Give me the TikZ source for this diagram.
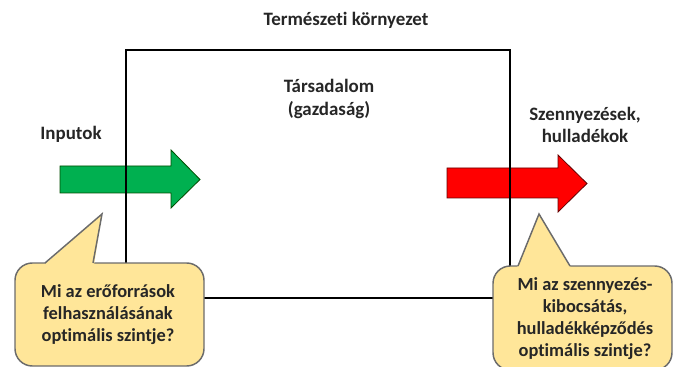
\documentclass[tikz,border=0pt]{standalone}
\usepackage{fontspec}
\setmainfont{Carlito}[Ligatures=NoCommon]
\begin{document}
\begin{tikzpicture}[x=0.75pt,y=-0.75pt,
  lbl/.style={font=\bfseries\fontsize{14.2}{17}\selectfont, align=center, text=black!85},
  qtext/.style={font=\bfseries\fontsize{13.8}{16.5}\selectfont, align=center, text=black!85},
  callfill/.style={fill=calloutyellow},
  callline/.style={draw=calloutborder, line width=1.1pt},
  boxline/.style={draw=black, line width=1.5pt},
  arrowline/.style={line width=0.6pt}]
\definecolor{calloutyellow}{HTML}{FFE699}
\definecolor{calloutborder}{HTML}{6B6B6B}
\definecolor{arrgreen}{HTML}{00B050}
\definecolor{arrred}{HTML}{FF0000}
\useasboundingbox (0,0) rectangle (675,367);
% arrows (drawn under the box lines)
\filldraw[fill=arrgreen, draw=black!70!green, arrowline]
  (60,166) -- (171,166) -- (171,150) -- (200,179.5) -- (171,208) -- (171,193) -- (60,193) -- cycle;
\filldraw[fill=arrred, draw=black!60!red, arrowline]
  (447,168) -- (558,168) -- (558,155) -- (587,183.5) -- (558,212) -- (558,198) -- (447,198) -- cycle;
% society box
\draw[boxline] (126,50) rectangle (510,298);
% left callout
\draw[callline, callfill, rounded corners=13] (15,263) rectangle (204,366);
\fill[calloutyellow] (44,265) -- (102,214) -- (94,265) -- cycle;
\draw[callline, line join=miter] (45,263) -- (102,214) -- (93,263);
% right callout
\draw[callline, callfill, rounded corners=13] (493,266) rectangle (672,370);
\fill[calloutyellow] (517,268) -- (539,214) -- (571,268) -- cycle;
\draw[callline, line join=miter] (518,266) -- (539,214) -- (570,266);
% texts
\node[lbl] (env) at (346,20) {Természeti környezet};
\node[lbl] (soc) at (329,99) {Társadalom\\(gazdaság)};
\node[lbl] (inp) at (71,134) {Inputok};
\node[lbl] (out) at (585,125) {Szennyezések,\\hulladékok};
\node[qtext] (q1) at (108,315) {Mi az erőforrások\\felhasználásának\\optimális szintje?};
\node[qtext] (q2) at (585,319) {Mi az szennyezés-\\kibocsátás,\\hulladékképződés\\optimális szintje?};
\end{tikzpicture}
\end{document}
